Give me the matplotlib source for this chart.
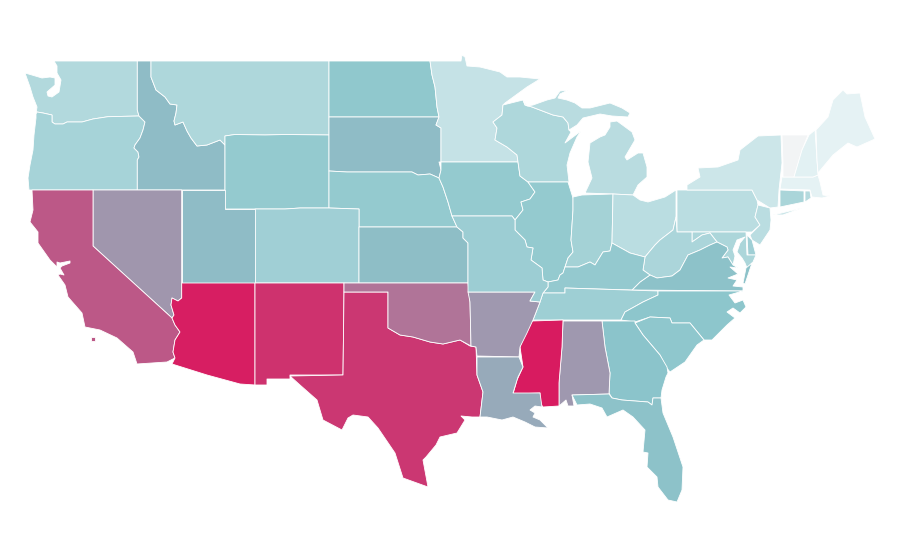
import matplotlib
matplotlib.use("Agg")
import matplotlib.pyplot as plt
from matplotlib.collections import PolyCollection
from matplotlib.colors import LinearSegmentedColormap, Normalize

# state values (0 = palest, 100 = deepest red)
states = ["WA", "OR", "ID", "MT", "WY", "ND", "SD", "NE", "CO", "KS", "UT", "NV", "CA", "AZ", "NM",
          "TX", "OK", "MN", "IA", "WI", "MI", "IL", "IN", "OH", "PA", "NY", "NJ", "CT", "RI", "MA",
          "VT", "NH", "ME", "DE", "MD", "WV", "VA", "KY", "TN", "NC", "SC", "GA", "AL", "FL", "MS",
          "AR", "LA", "MO"]
values = [31, 37, 52.5, 33, 45.5, 47.5, 52.5, 45.5, 40, 52, 52.5, 64, 82, 99, 93,
          91.5, 73.5, 22, 45.5, 33, 28, 45.5, 38, 27, 27, 18.5, 27, 35, 30, 7,
          0, 8, 7, 40, 34, 34.5, 51, 46, 41, 49, 48, 50, 63, 51, 100,
          63, 58, 42]

# outlines are map geometry in picture pixels, one list per land part
outlines = {
    "WA": [[(54, 61), (137.3, 61), (137.3, 110), (139, 116), (108, 116.7), (93, 119), (82, 122), (67, 122), (63, 124), (55, 124), (52, 122), (52, 115), (43, 113), (37, 112), (36, 114), (37, 107), (33, 97), (30, 87), (25, 73), (32, 75), (42, 78), (50, 77), (55, 78), (55, 85), (47, 92), (48, 96), (52, 97), (59, 92), (61, 80), (57, 73), (57, 66)]],
    "OR": [[(36, 114), (37, 112), (43, 113), (52, 115), (52, 122), (55, 124), (63, 124), (67, 122), (82, 122), (93, 119), (108, 116.7), (139, 116), (145, 122), (143, 130), (140, 138), (135, 145), (134, 148), (138, 152), (139, 157), (137.3, 160), (137.3, 190), (29, 190), (28, 178), (30, 165), (33, 150), (34, 135), (36, 118)]],
    "ID": [[(137.3, 61), (151, 61), (151, 77), (156, 90), (165, 97), (170, 104), (177, 105), (176, 113), (174, 121), (175, 125), (183, 122), (187, 131), (191, 138), (197, 146), (207, 145), (220, 140), (225, 145), (225, 190), (137.3, 190), (137.3, 160), (139, 157), (138, 152), (134, 148), (135, 145), (140, 138), (143, 130), (145, 122), (139, 116), (137.3, 110)]],
    "MT": [[(151, 61), (329, 61), (329, 135), (285, 134.5), (265, 135), (235, 134.5), (225, 136), (225, 145), (220, 140), (207, 145), (197, 146), (191, 138), (187, 131), (183, 122), (175, 125), (174, 121), (176, 113), (177, 105), (170, 104), (165, 97), (156, 90), (151, 77)]],
    "WY": [[(225, 136), (235, 134.5), (265, 135), (285, 134.5), (329, 135), (329, 208), (300, 208), (285, 209), (255, 209), (225, 209)]],
    "ND": [[(329, 61), (430, 61), (432, 75), (435, 87), (437, 107), (439, 117), (329, 117)]],
    "SD": [[(329, 117), (439, 117), (436, 125), (441, 128), (441, 162), (439, 162), (441, 170), (439, 178), (430, 174), (418, 175), (412, 172), (347, 172), (329, 171)]],
    "NE": [[(329, 171), (347, 172), (412, 172), (418, 175), (430, 174), (439, 178), (443, 187), (448, 202), (452, 216), (457, 227), (359, 227), (359, 209), (329, 208)]],
    "CO": [[(255, 209), (285, 209), (300, 208), (329, 208), (359, 209), (359, 283), (255, 283)]],
    "KS": [[(359, 227), (457, 227), (463, 232), (463, 238), (468, 243), (468, 283), (359, 283)]],
    "UT": [[(181.7, 190), (225, 190), (225, 209), (255, 209), (255, 283), (181.7, 283)]],
    "NV": [[(93, 190), (181.7, 190), (181.7, 298), (178, 301), (172, 298), (171, 305), (174, 315), (172, 318), (93, 246)]],
    "CA": [[(32, 190), (93, 190), (93, 246), (172, 318), (175, 325), (180, 332), (175, 340), (173, 352), (175, 358), (167, 362), (137, 364), (133, 352), (117, 338), (100, 330), (85, 327), (82, 313), (68, 297), (65, 285), (58, 275), (60, 274), (64, 275), (60, 268), (62, 266), (70, 263), (70, 261), (60, 263), (57, 262), (57, 267), (50, 260), (38, 243), (38, 232), (30, 222), (33, 210)],
           [(91, 337), (95, 337), (95, 341), (91, 341)]],
    "AZ": [[(181.7, 283), (255, 283), (255, 385), (240, 384), (207, 375), (172, 364), (175, 358), (173, 352), (175, 340), (180, 332), (175, 325), (172, 318), (174, 315), (171, 305), (172, 298), (178, 301), (181.7, 298)]],
    "NM": [[(255, 283), (344, 283), (344, 292), (343, 375), (290, 375), (290, 379), (267, 379), (267, 385), (255, 385)]],
    "TX": [[(344, 292), (388, 292), (388, 328), (400, 335), (413, 337), (430, 342), (443, 344), (460, 340), (470, 346), (476, 347), (477, 375), (483, 392), (480, 417), (472, 417), (461, 416), (465, 420), (457, 433), (440, 437), (436, 445), (426, 457), (423, 460), (428, 487), (403, 478), (395, 453), (378, 428), (368, 417), (353, 415), (348, 418), (342, 430), (323, 420), (317, 400), (300, 385), (290, 376), (343, 375)]],
    "OK": [[(344, 283), (468, 283), (470, 302), (471, 346), (460, 340), (443, 344), (430, 342), (413, 337), (400, 335), (388, 328), (388, 292), (344, 292)]],
    "MN": [[(430, 61), (461, 61), (462, 55), (465, 57), (467, 66), (480, 67), (500, 72), (507, 77), (520, 77), (540, 79), (527, 87), (505, 103), (503, 105), (502, 115), (493, 122), (497, 128), (495, 140), (507, 147), (517, 155), (518, 162), (441, 162), (441, 128), (436, 125), (439, 117), (437, 107), (435, 87), (432, 75)]],
    "IA": [[(441, 162), (518, 162), (520, 176), (528, 182), (535, 192), (530, 199), (521, 202), (523, 210), (515, 220), (512, 216), (452, 216), (448, 202), (443, 187), (439, 178), (441, 170)]],
    "WI": [[(503, 105), (523, 100), (525, 105), (532, 107), (553, 115), (563, 117), (568, 123), (569, 130), (571, 132), (565, 143), (581, 131), (577, 137), (570, 153), (567, 165), (569, 182), (528, 182), (520, 176), (518, 162), (517, 155), (507, 147), (495, 140), (497, 128), (493, 122), (502, 115)]],
    "MI": [[(523, 100), (527, 106), (533, 105), (547, 100), (555, 98), (560, 91), (568, 90), (560, 94), (558, 98), (567, 100), (575, 103), (582, 108), (590, 108), (610, 103), (622, 108), (630, 113), (628, 117), (612, 116), (600, 114), (583, 118), (577, 125), (569, 130), (568, 123), (563, 117), (553, 115), (532, 107), (525, 105)],
           [(573, 198), (585, 193), (613, 194), (633, 195), (638, 185), (647, 177), (647, 167), (643, 153), (638, 153), (627, 160), (625, 157), (635, 140), (632, 132), (617, 121), (610, 122), (610, 127), (605, 135), (600, 137), (590, 143), (588, 162), (592, 178), (585, 193)]],
    "IL": [[(528, 182), (568, 182), (573, 198), (573, 210), (571, 240), (573, 252), (568, 258), (565, 267), (563, 273), (560, 275), (558, 280), (548, 282), (543, 280), (542, 268), (531, 260), (533, 248), (527, 247), (525, 240), (515, 230), (515, 220), (523, 210), (521, 202), (530, 199), (535, 192)]],
    "IN": [[(573, 197), (582, 195), (613, 194), (612, 243), (610, 251), (603, 252), (595, 265), (590, 262), (578, 267), (565, 267), (568, 258), (573, 252), (571, 240), (573, 210)]],
    "OH": [[(613, 194), (633, 195), (640, 200), (648, 202), (665, 197), (676, 190), (676, 217), (673, 230), (660, 240), (655, 245), (645, 257), (630, 253), (612, 243)]],
    "PA": [[(677, 190), (752, 190), (757, 200), (758, 205), (755, 217), (760, 225), (752, 232), (677, 232)]],
    "NY": [[(687, 190), (687, 185), (700, 177), (698, 168), (718, 167), (738, 160), (740, 150), (758, 136), (781, 135), (782, 163), (779, 190), (778, 207), (770, 208), (757, 200), (752, 190)],
           [(773, 215), (802, 208), (783, 215)]],
    "NJ": [[(758, 205), (770, 208), (771, 220), (770, 230), (760, 245), (752, 240), (750, 235), (760, 225), (755, 217)]],
    "CT": [[(780, 190), (804, 191), (804, 202), (780, 207)]],
    "RI": [[(805, 191), (810, 191), (811, 198), (805, 202)]],
    "MA": [[(782, 177), (813, 177), (818, 175), (820, 182), (823, 195), (830, 196), (822, 198), (812, 197), (810, 190), (780, 189)]],
    "VT": [[(782, 135), (808, 135), (802, 150), (794, 177), (783, 177), (783, 163)]],
    "NH": [[(809, 135), (815, 130), (817, 160), (818, 175), (813, 177), (794, 177), (802, 150)]],
    "ME": [[(816, 130), (828, 117), (833, 100), (843, 90), (847, 94), (860, 93), (865, 117), (875, 139), (857, 147), (848, 143), (833, 155), (818, 173), (817, 160)]],
    "DE": [[(747, 235), (752, 240), (756, 255), (748, 255)]],
    "MD": [[(692, 232), (746, 232), (747, 255), (756, 255), (753, 262), (747, 268), (745, 263), (742, 258), (737, 252), (740, 243), (745, 237), (737, 240), (733, 250), (735, 256), (733, 265), (728, 257), (722, 258), (728, 250), (727, 247), (717, 242), (710, 233), (702, 235), (692, 242)]],
    "WV": [[(676, 217), (677, 232), (692, 232), (692, 242), (702, 235), (710, 233), (717, 242), (710, 245), (700, 250), (688, 255), (680, 270), (672, 276), (657, 278), (650, 275), (643, 270), (645, 257), (655, 245), (660, 240), (673, 230)]],
    "VA": [[(632, 290), (640, 282), (650, 275), (657, 278), (672, 276), (680, 270), (688, 255), (700, 250), (710, 245), (717, 242), (727, 247), (728, 250), (722, 258), (728, 257), (733, 265), (738, 268), (730, 267), (738, 274), (728, 278), (737, 280), (733, 286), (743, 287), (743, 291)],
           [(752, 263), (745, 284), (743, 283), (746, 268)]],
    "KY": [[(543, 293), (548, 287), (548, 282), (558, 280), (560, 275), (563, 273), (565, 267), (578, 267), (590, 262), (595, 265), (603, 252), (610, 251), (612, 243), (630, 253), (645, 257), (643, 270), (650, 275), (640, 282), (632, 290), (565, 288), (565, 293)]],
    "TN": [[(543, 293), (565, 293), (565, 288), (658, 291), (658, 295), (643, 302), (625, 312), (621, 320), (563, 320), (533, 320), (540, 302)]],
    "NC": [[(658, 291), (743, 291), (729, 295), (735, 303), (743, 300), (746, 307), (740, 313), (733, 308), (727, 312), (735, 318), (727, 325), (712, 340), (704, 340), (690, 323), (672, 323), (670, 318), (650, 317), (635, 322), (621, 320), (625, 312), (643, 302), (658, 295)]],
    "SC": [[(635, 323), (650, 317), (670, 318), (672, 323), (690, 323), (704, 340), (697, 345), (685, 362), (670, 372), (666, 367), (660, 355), (643, 335)]],
    "GA": [[(602, 321), (635, 321), (635, 323), (643, 335), (660, 355), (667, 367), (668, 373), (666, 377), (662, 390), (661, 398), (653, 398), (652, 405), (648, 402), (622, 400), (612, 398), (609, 393), (610, 373), (605, 347)]],
    "AL": [[(563, 321), (602, 321), (605, 347), (610, 373), (609, 394), (572, 395), (574, 406), (568, 406), (566, 400), (559, 406), (559, 383), (562, 347)]],
    "FL": [[(572, 395), (609, 394), (612, 398), (622, 400), (648, 402), (652, 405), (653, 398), (661, 398), (663, 413), (673, 437), (683, 467), (682, 490), (677, 502), (668, 500), (658, 487), (657, 477), (647, 467), (648, 453), (643, 452), (645, 430), (633, 417), (623, 410), (607, 417), (602, 408), (590, 404), (577, 405)]],
    "MS": [[(532, 321), (563, 320), (562, 347), (559, 383), (559, 406), (543, 407), (539, 402), (540, 393), (513, 394), (517, 380), (523, 367), (520, 347), (525, 332)]],
    "AR": [[(468, 292), (535, 292), (530, 301), (540, 302), (533, 320), (527, 333), (520, 347), (519, 357), (477, 356), (476, 347), (471, 346), (470, 302)]],
    "LA": [[(477, 357), (519, 357), (523, 367), (518, 377), (513, 393), (540, 393), (542, 407), (535, 406), (530, 410), (535, 413), (533, 417), (540, 420), (548, 428), (535, 427), (525, 422), (513, 417), (502, 420), (487, 417), (480, 417), (483, 392), (477, 375)]],
    "MO": [[(452, 216), (512, 216), (515, 220), (515, 230), (525, 240), (527, 247), (533, 248), (531, 260), (542, 268), (543, 280), (548, 282), (548, 287), (543, 293), (540, 302), (530, 301), (535, 292), (468, 292), (468, 243), (463, 238), (463, 232), (457, 227)]],
}

cmap = LinearSegmentedColormap.from_list("pale_teal_red", [(0, "#f2f4f5"), (0.07, "#e4f2f4"), (0.5, "#8bc5cb"), (1, "#d81b60")])

fig = plt.figure(figsize=(9, 5.6), dpi=100)
ax = fig.add_axes([0, 0, 1, 1])
ax.set_xlim(0, 900)
ax.set_ylim(560, 0)
ax.axis("off")

polys = []
poly_values = []
for name, val in zip(states, values):
    for part in outlines[name]:
        polys.append(part)
        poly_values.append(val)

coll = PolyCollection(polys, array=poly_values, cmap=cmap, norm=Normalize(0, 100),
                      edgecolors="white", linewidths=0.6)
ax.add_collection(coll)

fig.savefig("out.png", dpi=100)
